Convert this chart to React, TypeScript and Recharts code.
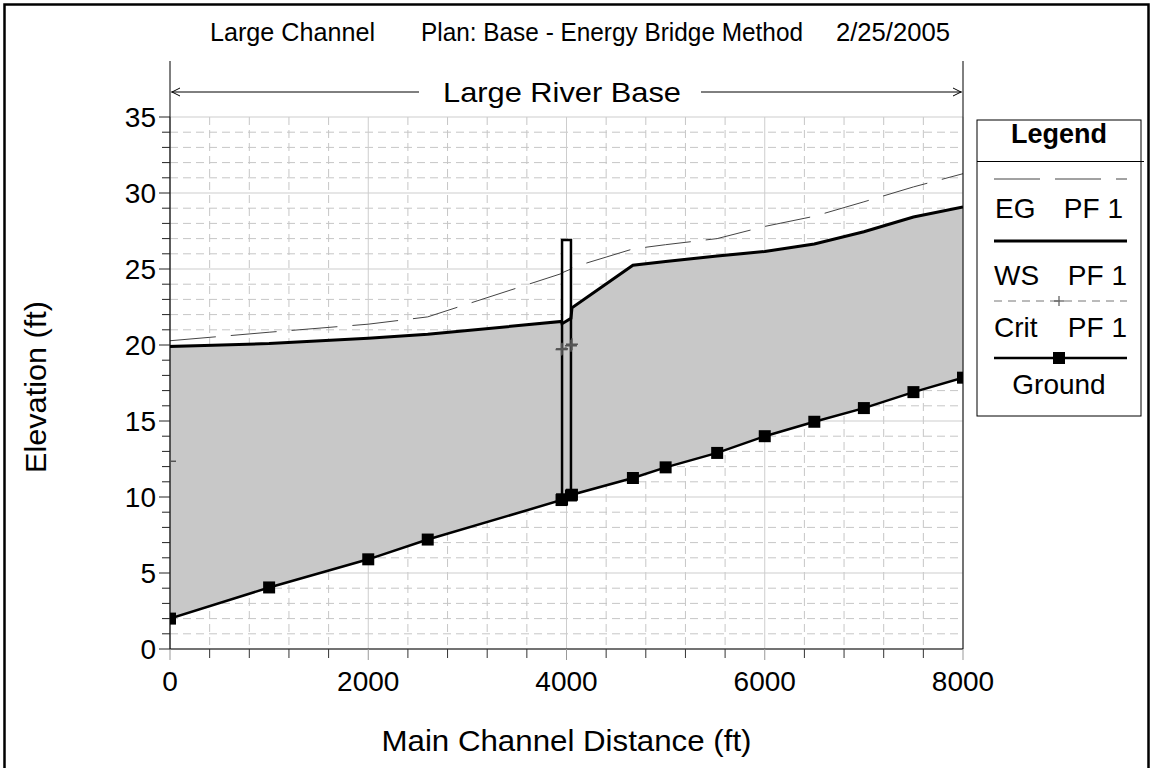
import React from 'react';
import {
  ComposedChart,
  Area,
  Line,
  XAxis,
  YAxis,
  CartesianGrid,
  ReferenceArea,
} from 'recharts';

// Profile stations (main channel distance, ft) and elevations (ft)
const stations = [0, 1000, 2000, 2600, 3950, 3955, 4045, 4055, 4670, 5000, 5520, 6000, 6500, 7000, 7500, 8000];
const groundElev = [2.0, 4.05, 5.9, 7.2, 9.8, 9.85, 10.1, 10.15, 11.25, 11.95, 12.9, 14.0, 14.95, 15.85, 16.9, 17.85];
const wsElev = [19.9, 20.1, 20.45, 20.7, 21.55, 21.4, 21.75, 22.45, 25.25, 25.5, 25.85, 26.15, 26.65, 27.45, 28.42, 29.08];
const egElev = [20.28, 20.84, 21.37, 21.85, 24.7, 24.75, 25.0, 25.1, 26.32, 26.6, 27.0, 27.8, 28.47, 29.42, 30.4, 31.27];
const critElev = [12.35, null, null, null, 19.7, 19.75, 19.95, 20.05, null, null, null, null, null, null, null, null];

// Bridge deck: upstream/downstream faces and top of road
const bridgeStations = [3955, 4045];
const bridgeDeck = 26.9;

const xTicks = [0, 400, 800, 1200, 1600, 2000, 2400, 2800, 3200, 3600, 4000, 4400, 4800, 5200, 5600, 6000, 6400, 6800, 7200, 7600, 8000];
const xMajor = [0, 2000, 4000, 6000, 8000];
const xMinor = xTicks.filter((t) => !xMajor.includes(t));
const yTicks = [0, 1, 2, 3, 4, 5, 6, 7, 8, 9, 10, 11, 12, 13, 14, 15, 16, 17, 18, 19, 20, 21, 22, 23, 24, 25, 26, 27, 28, 29, 30, 31, 32, 33, 34, 35];
const yMajor = [0, 5, 10, 15, 20, 25, 30, 35];
const yMinor = yTicks.filter((t) => !yMajor.includes(t));

const data = stations.map((s, i) => ({
  station: s,
  ground: groundElev[i],
  ws: wsElev[i],
  eg: egElev[i],
  crit: critElev[i],
  band: [groundElev[i], wsElev[i]],
}));

const W = 1156;
const H = 768;
const PLOT = { left: 170, right: 963, top: 117, bottom: 649 };
const FONT = '"Liberation Sans", Arial, sans-serif';

function XTick(props: any) {
  const { x, y, payload } = props;
  const major = xMajor.includes(payload.value);
  return (
    <g>
      <line x1={x} x2={x} y1={y} y2={y + (major ? 11 : 9)} stroke={major ? '#999' : '#333'} strokeWidth={1} />
      {major && (
        <text x={x} y={y + 42} textAnchor="middle" fontSize={28} fontFamily={FONT} fill="#000">
          {payload.value}
        </text>
      )}
    </g>
  );
}

function YTick(props: any) {
  const { x, y, payload } = props;
  const major = yMajor.includes(payload.value);
  return (
    <g>
      <line x1={x - (major ? 11 : 8)} x2={x} y1={y} y2={y} stroke="#222" strokeWidth={1} />
      {major && (
        <text x={x - 14} y={y + 10} textAnchor="end" fontSize={28} fontFamily={FONT} fill="#000">
          {payload.value}
        </text>
      )}
    </g>
  );
}

function GroundDot(props: any) {
  const { cx, cy, index } = props;
  if (cx == null || cy == null) return <g key={`g${index}`} />;
  return <rect key={`g${index}`} x={cx - 6} y={cy - 6} width={12} height={12} fill="#000" />;
}

function CritDot(props: any) {
  const { cx, cy, index, payload } = props;
  if (cx == null || cy == null || payload.crit == null) return <g key={`c${index}`} />;
  const left = payload.station === 0 ? cx : cx - 6;
  return (
    <g key={`c${index}`} stroke="#555" strokeWidth={1.5}>
      <line x1={left} x2={cx + 6} y1={cy} y2={cy} />
      <line x1={cx} x2={cx} y1={cy - 6} y2={cy + 6} />
    </g>
  );
}

function Overlay() {
  const mid = (PLOT.left + PLOT.right) / 2;
  const lgL = 977;
  const lgR = 1141;
  const lineL = 994;
  const lineR = 1127;
  const lgMid = (lgL + lgR) / 2;
  const txt = { fontFamily: FONT, fill: '#000' } as const;
  return (
    <svg
      width={W}
      height={H}
      style={{ position: 'absolute', left: 0, top: 0, pointerEvents: 'none' }}
    >
      {/* outer frame */}
      <rect x={4.5} y={4.5} width={1144} height={775} fill="none" stroke="#000" strokeWidth={2.5} />

      {/* plot title */}
      <text x={210} y={41} fontSize={25} textLength={165} lengthAdjust="spacingAndGlyphs" {...txt}>
        Large Channel
      </text>
      <text x={421} y={41} fontSize={25} textLength={382} lengthAdjust="spacingAndGlyphs" {...txt}>
        Plan: Base - Energy Bridge Method
      </text>
      <text x={836} y={41} fontSize={25} textLength={114} lengthAdjust="spacingAndGlyphs" {...txt}>
        2/25/2005
      </text>

      {/* reach label bar */}
      <g stroke="#000" strokeWidth={1} fill="none">
        <line x1={PLOT.left} x2={PLOT.left} y1={61} y2={PLOT.top} />
        <line x1={PLOT.right} x2={PLOT.right} y1={61} y2={PLOT.bottom} />
        <line x1={PLOT.left + 1} x2={419} y1={92} y2={92} />
        <line x1={701} x2={PLOT.right - 1} y1={92} y2={92} />
        <polyline points={`${PLOT.left + 10},88 ${PLOT.left + 2},92 ${PLOT.left + 10},96`} />
        <polyline points={`${PLOT.right - 10},88 ${PLOT.right - 2},92 ${PLOT.right - 10},96`} />
      </g>
      <text x={562} y={102} fontSize={28} textAnchor="middle" textLength={238} lengthAdjust="spacingAndGlyphs" {...txt}>
        Large River Base
      </text>

      {/* axis titles */}
      <text x={mid} y={751} fontSize={29} textAnchor="middle" textLength={370} lengthAdjust="spacingAndGlyphs" {...txt}>
        Main Channel Distance (ft)
      </text>
      <text
        x={46}
        y={387}
        fontSize={29}
        textAnchor="middle"
        transform="rotate(-90 46 387)"
        textLength={172}
        lengthAdjust="spacingAndGlyphs"
        {...txt}
      >
        Elevation (ft)
      </text>

      {/* legend */}
      <rect x={lgL} y={120} width={lgR - lgL} height={296} fill="#fff" stroke="#000" strokeWidth={1} />
      <line x1={lgL} x2={lgR + 3} y1={161.5} y2={161.5} stroke="#000" strokeWidth={1} />
      <text x={lgMid} y={143} fontSize={27} fontWeight="bold" textAnchor="middle" {...txt}>
        Legend
      </text>

      <line x1={lineL} x2={lineR} y1={179} y2={179} stroke="#444" strokeWidth={1} strokeDasharray="46 15" />
      <text x={lineL + 1} y={218} fontSize={28} {...txt}>EG</text>
      <text x={lineR - 4} y={218} fontSize={28} textAnchor="end" {...txt}>PF 1</text>

      <line x1={lineL} x2={lineR} y1={241} y2={241} stroke="#000" strokeWidth={3} />
      <text x={lineL} y={285} fontSize={28} {...txt}>WS</text>
      <text x={lineR} y={285} fontSize={28} textAnchor="end" {...txt}>PF 1</text>

      <line x1={lineL} x2={lineR} y1={301} y2={301} stroke="#777" strokeWidth={1} strokeDasharray="8 6" />
      <g stroke="#555" strokeWidth={1.2}>
        <line x1={lgMid - 5} x2={lgMid + 5} y1={301} y2={301} />
        <line x1={lgMid} x2={lgMid} y1={296} y2={306} />
      </g>
      <text x={lineL} y={337} fontSize={28} {...txt}>Crit</text>
      <text x={lineR} y={337} fontSize={28} textAnchor="end" {...txt}>PF 1</text>

      <line x1={lineL} x2={lineR} y1={358} y2={358} stroke="#000" strokeWidth={2.5} />
      <rect x={lgMid - 6} y={352} width={12} height={12} fill="#000" />
      <text x={lgMid} y={394} fontSize={28} textAnchor="middle" {...txt}>Ground</text>
    </svg>
  );
}

export default function App() {
  return (
    <div style={{ position: 'absolute', left: 0, top: 0, width: W, height: H, background: '#fff' }}>
      <ComposedChart
        width={W}
        height={H}
        data={data}
        margin={{ top: PLOT.top, right: W - PLOT.right, bottom: 0, left: 0 }}
      >
        <CartesianGrid
          horizontalValues={yMinor}
          verticalValues={xMinor}
          stroke="#c6c6c6"
          strokeDasharray="8 5"
        />
        <CartesianGrid horizontalValues={yMajor} verticalValues={xMajor} stroke="#cdcdcd" />
        <XAxis
          dataKey="station"
          type="number"
          domain={[0, 8000]}
          ticks={xTicks}
          interval={0}
          height={H - PLOT.bottom}
          tickSize={0}
          tickMargin={0}
          tickLine={false}
          tick={<XTick />}
          axisLine={{ stroke: '#000', strokeWidth: 1.2 }}
          allowDataOverflow
        />
        <YAxis
          type="number"
          domain={[0, 35]}
          ticks={yTicks}
          interval={0}
          width={PLOT.left}
          tickSize={0}
          tickMargin={0}
          tickLine={false}
          tick={<YTick />}
          axisLine={{ stroke: '#000', strokeWidth: 1.2 }}
          allowDataOverflow
        />
        <ReferenceArea
          x1={bridgeStations[0]}
          x2={bridgeStations[1]}
          y1={groundElev[5]}
          y2={bridgeDeck}
          fill="#fff"
          fillOpacity={1}
          stroke="none"
          zIndex={50}
        />
        <Area
          dataKey="band"
          type="linear"
          fill="#c8c8c8"
          fillOpacity={1}
          stroke="none"
          isAnimationActive={false}
        />
        <Line
          dataKey="eg"
          type="linear"
          stroke="#444"
          strokeWidth={1}
          strokeDasharray="46 15"
          dot={false}
          isAnimationActive={false}
        />
        <Line
          dataKey="crit"
          type="linear"
          stroke="#777"
          strokeWidth={1}
          strokeDasharray="6 5"
          dot={<CritDot />}
          connectNulls={false}
          isAnimationActive={false}
        />
        <Line
          dataKey="ws"
          type="linear"
          stroke="#000"
          strokeWidth={3}
          dot={false}
          isAnimationActive={false}
        />
        <Line
          dataKey="ground"
          type="linear"
          stroke="#000"
          strokeWidth={2.5}
          dot={<GroundDot />}
          isAnimationActive={false}
        />
        <ReferenceArea
          x1={bridgeStations[0]}
          x2={bridgeStations[1]}
          y1={groundElev[5]}
          y2={bridgeDeck}
          fill="none"
          stroke="#000"
          strokeWidth={2.5}
          zIndex={450}
        />
      </ComposedChart>
      <Overlay />
    </div>
  );
}
